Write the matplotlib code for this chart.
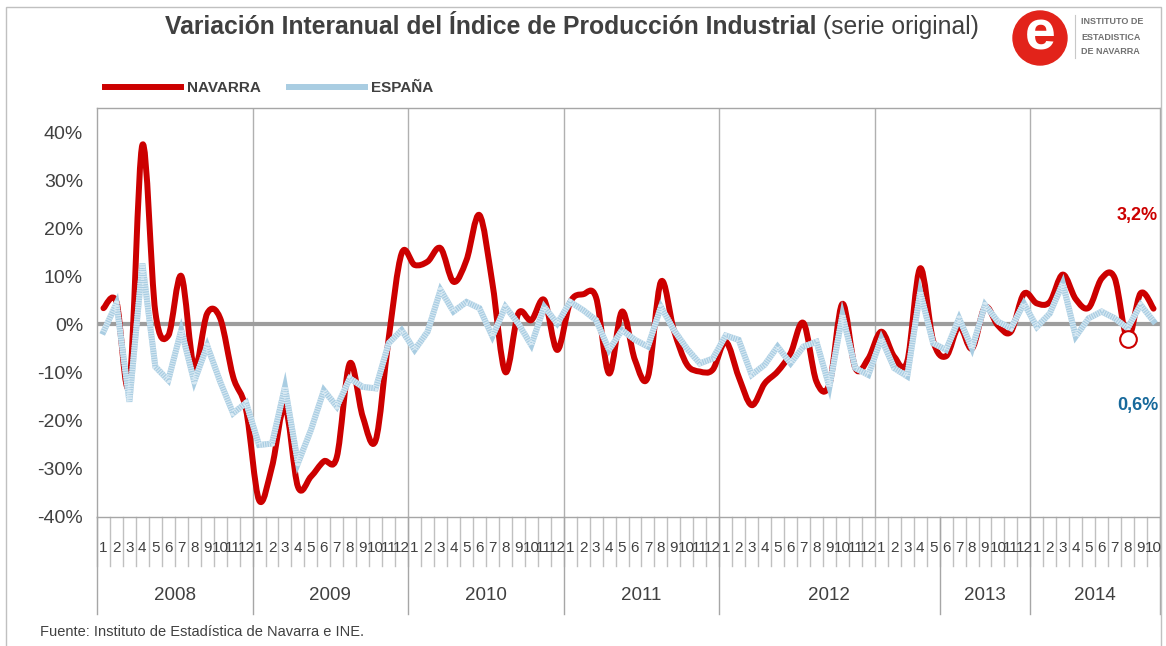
import numpy as np
import matplotlib
matplotlib.use('Agg')
import matplotlib.pyplot as plt
import matplotlib.transforms as mtransforms
from matplotlib.path import Path
from matplotlib.patches import PathPatch, Ellipse, Rectangle
from matplotlib.lines import Line2D

# datos: variacion interanual (%) ene-2008 .. oct-2014
years = ['2008', '2009', '2010', '2011', '2012', '2013', '2014']
year_spans = [12, 12, 12, 12, 17, 7, 10]   # asi aparecen las etiquetas de año en el original
month_labels = [str(m) for m in range(1, 13)] * 6 + [str(m) for m in range(1, 11)]

navarra = [3.3, 4.6, -12.4, 37.3, 2.5, -2.4, 10.0, -9.0, 2.2, 1.2, -11.0, -17.9,
           -36.7, -29.7, -17.2, -33.9, -31.8, -28.6, -27.7, -8.2, -19.3, -24.2, -3.0, 14.7,
           12.3, 13.0, 15.8, 8.8, 13.3, 22.7, 8.5, -10.0, 2.2, 0.8, 5.0, -5.4,
           4.5, 6.2, 5.5, -10.3, 2.6, -7.5, -11.0, 8.8, -1.3, -8.4, -9.9, -9.5,
           -3.7, -11.0, -16.9, -12.4, -9.9, -6.1, 0.2, -12.0, -12.5, 4.2, -9.2, -7.2,
           -1.6, -6.8, -7.8, 11.6, -3.5, -6.7, -0.5, -5.1, 3.5, -0.3, -1.6, 6.3,
           4.3, 4.6, 10.3, 5.2, 3.4, 9.5, 9.6, -3.1, 6.4, 3.2]

espana = [-1.6, 4.3, -16.2, 12.6, -8.9, -11.7, -1.25, -12.0, -4.5, -12.0, -18.6, -16.4,
          -25.2, -24.9, -13.1, -29.0, -22.1, -13.8, -17.2, -11.3, -13.1, -13.4, -4.0, -1.25,
          -5.4, -1.6, 7.1, 2.6, 4.6, 3.3, -2.6, 3.6, 0.1, -4.4, 3.6, 0.1,
          4.6, 2.9, 0.8, -5.4, -1.25, -3.3, -4.7, 3.6, -1.25, -5.1, -8.2, -7.2,
          -2.4, -3.3, -10.6, -8.5, -4.7, -8.2, -4.7, -3.7, -13.1, 1.9, -9.2, -10.6,
          -3.0, -9.2, -10.9, 6.7, -4.0, -5.4, 1.2, -5.1, 4.0, 0.5, -0.9, 4.3,
          -0.6, 2.2, 8.5, -2.6, 1.2, 2.6, 1.2, -0.9, 4.0, 0.6]

RED = '#cc0000'
BLUE = '#a9cde2'
BLUE_LIGHT = '#d8e9f3'
GREY_TXT = '#404040'
W, H = 1166, 646

plt.rcParams['font.family'] = ['Liberation Sans', 'DejaVu Sans']


def fx(x):
    return x / W


def fy(y):
    return 1 - y / H


fig = plt.figure(figsize=(W / 100, H / 100), dpi=100)
ax = fig.add_axes([fx(97), fy(517), (1160 - 97) / W, (517 - 108) / H])

n = len(navarra)
x = np.arange(n) + 0.5

# linea suavizada de Navarra (curva bezier por los puntos, como en excel)
P = np.column_stack([x, navarra])
verts = [P[0]]
codes = [Path.MOVETO]
for k in range(n - 1):
    p0 = P[k - 1] if k > 0 else P[k]
    p1, p2 = P[k], P[k + 1]
    p3 = P[k + 2] if k + 2 < n else P[k + 1]
    verts += [p1 + (p2 - p0) / 6, p2 - (p3 - p1) / 6, p2]
    codes += [Path.CURVE4] * 3
ax.add_patch(PathPatch(Path(verts, codes), fill=False, edgecolor=RED, lw=4.3,
                       capstyle='round', joinstyle='round', zorder=3))

# España: linea con trama rayada
ax.plot(x, espana, color=BLUE, lw=4.3, solid_joinstyle='miter', zorder=4)
ax.plot(x, espana, color=BLUE_LIGHT, lw=4.3, dashes=(0.18, 0.22), dash_capstyle='butt',
        zorder=4.5)
ax.plot(x[79], navarra[79], 'o', ms=12, mfc='white', mec=RED, mew=1.5, zorder=6)

ax.axhline(0, color='#9d9d9d', lw=3, zorder=2)
for b in np.cumsum([12] * 6):
    ax.axvline(b, color='#b0b0b0', lw=1, zorder=1)

ax.set_xlim(0, n)
ax.set_ylim(-40.2, 45)
ax.set_yticks(range(-40, 41, 10))
ax.set_yticklabels([f'{v}%' for v in range(-40, 41, 10)])
ax.tick_params(axis='y', length=0, pad=10, labelsize=14, labelcolor=GREY_TXT)
ax.set_xticks([])
for s in ax.spines.values():
    s.set_color('#a6a6a6')
    s.set_linewidth(1)

# eje de categorias: meses y años
blend = mtransforms.blended_transform_factory(ax.transData, ax.transAxes)
ah = 517 - 108
for i, lab in enumerate(month_labels):
    ax.text(i + 0.5, -31 / ah, lab, transform=blend, ha='center', va='center',
            fontsize=11, color=GREY_TXT)
for b in range(n + 1):
    ax.plot([b, b], [0, -49 / ah], transform=blend, clip_on=False, color='#c0c0c0', lw=1)
edges = np.concatenate([[0], np.cumsum(year_spans)])
for b in edges:
    ax.plot([b, b], [0, -97 / ah], transform=blend, clip_on=False, color='#a6a6a6', lw=1)
for yr, a, b in zip(years, edges[:-1], edges[1:]):
    ax.text((a + b) / 2, -(595 - 517) / ah, yr, transform=blend, ha='center', va='center',
            fontsize=13.5, color=GREY_TXT)

ax.text(n - 0.15, 22.7, '3,2%', ha='right', va='center', color=RED,
        fontsize=13, fontweight='bold')
ax.text(n - 0.15, -16.9, '0,6%', ha='right', va='center', color='#17699b',
        fontsize=13, fontweight='bold')

# titulo
t = fig.text(fx(165), fy(27), 'Variación Interanual del Índice de Producción Industrial',
             fontsize=17.8, fontweight='bold', color=GREY_TXT, va='center', ha='left')
ax.annotate(' (serie original)', xy=(1, 0.5), xycoords=t, ha='left', va='center',
            fontsize=17.8, color=GREY_TXT, annotation_clip=False)

# leyenda
handles = [Line2D([], [], color=RED, lw=4.3), Line2D([], [], color=BLUE, lw=4.3)]
leg = fig.legend(handles, ['NAVARRA', 'ESPAÑA'], loc='center left',
                 bbox_to_anchor=(fx(105), fy(88)), frameon=False, ncol=2,
                 handlelength=5.0, handletextpad=0.4, columnspacing=1.8,
                 borderpad=0, borderaxespad=0, prop={'weight': 'bold', 'size': 11})
for txt in leg.get_texts():
    txt.set_color(GREY_TXT)

# logo
fig.add_artist(Ellipse((fx(1040), fy(38)), 54 / W, 54 / H, transform=fig.transFigure,
                       color='#e2231a'))
fig.text(fx(1040), fy(36), 'e', color='white', fontsize=40, fontweight='bold',
         ha='center', va='center')
fig.add_artist(Line2D([fx(1075), fx(1075)], [fy(15), fy(58)], color='#c8c8c8', lw=0.8))
for yy, s in zip([22, 37, 52], ['INSTITUTO DE', 'ESTADISTICA', 'DE NAVARRA']):
    fig.text(fx(1081), fy(yy), s, fontsize=6.5, fontweight='bold', color='#707070',
             ha='left', va='center')

fig.text(fx(40), fy(632), 'Fuente: Instituto de Estadística de Navarra e INE.',
         fontsize=10.5, color=GREY_TXT, ha='left', va='center')

fig.add_artist(Rectangle((fx(6), -0.05), (1161 - 6) / W, fy(7) + 0.05, transform=fig.transFigure,
                         fill=False, edgecolor='#c0c0c0', lw=1))

fig.savefig('out.png', dpi=100)
